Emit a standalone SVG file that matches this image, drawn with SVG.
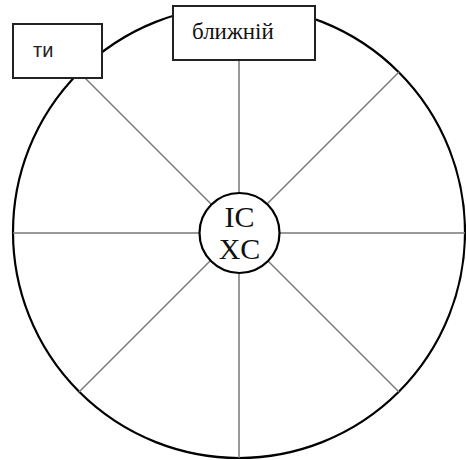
<svg xmlns="http://www.w3.org/2000/svg" width="466" height="460" viewBox="0 0 466 460">
<style>
.spoke{stroke:#777;stroke-width:1.5;fill:none}
.box{fill:#fff;stroke:#222;stroke-width:2}
.serif{font-family:"Liberation Serif","DejaVu Serif",serif;fill:#111}
</style>
<rect width="466" height="460" fill="#fff"/>
<g id="wheel">
<circle cx="239" cy="232" r="226" fill="none" stroke="#000" stroke-width="2.2"/>
</g>
<g id="connectors">
<line class="spoke" x1="239" y1="6" x2="239" y2="458"/>
<line class="spoke" x1="13" y1="233" x2="465" y2="233"/>
<line class="spoke" x1="79" y1="72" x2="399" y2="392"/>
<line class="spoke" x1="399" y1="72" x2="79" y2="392"/>
</g>
<g id="center">
<circle cx="239.5" cy="233" r="40" fill="#fff" stroke="#000" stroke-width="2.2"/>
<text class="serif" x="239.5" y="227" font-size="30" text-anchor="middle">IC</text>
<text class="serif" x="239.5" y="259" font-size="30" text-anchor="middle">XC</text>
</g>
<g id="ty">
<rect class="box" x="13" y="24" width="89" height="54"/>
<text x="33" y="57" font-family="Liberation Sans, Arial, sans-serif" font-size="20" fill="#222">ти</text>
</g>
<g id="blyzhnii">
<rect class="box" x="173" y="6" width="142" height="54"/>
<text class="serif" x="192" y="39" font-size="23">ближній</text>
</g>
</svg>
